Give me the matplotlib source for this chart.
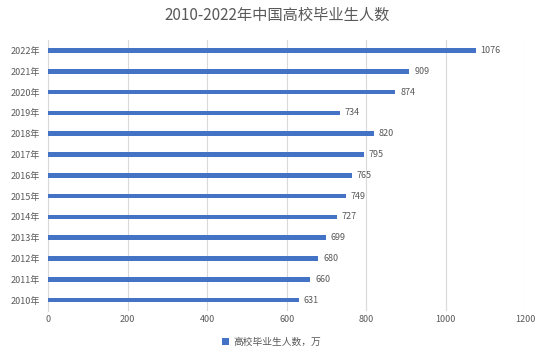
import matplotlib.pyplot as plt
import numpy as np

plt.rcParams['font.family'] = ['Noto Sans CJK SC', 'DejaVu Sans']

years = ['2010年', '2011年', '2012年', '2013年', '2014年', '2015年', '2016年',
         '2017年', '2018年', '2019年', '2020年', '2021年', '2022年']
graduates = [631, 660, 680, 699, 727, 749, 765, 795, 820, 734, 874, 909, 1076]
series_name = '高校毕业生人数，万'

bar_color = '#4472C4'
text_color = '#595959'

fig = plt.figure(figsize=(5.54, 3.56), dpi=100)
ax = fig.add_axes([48.3 / 554, 1 - 310.5 / 356, (525 - 48.3) / 554, (310.5 - 40) / 356])

y = np.arange(len(years))
ax.barh(y, graduates, height=0.22, color=bar_color, label=series_name, zorder=3)
for yi, v in zip(y, graduates):
    ax.text(v + 12, yi, str(v), va='center', ha='left', fontsize=6.5, color=text_color)

ax.set_xlim(0, 1200)
ax.set_ylim(-0.5, len(years) - 0.5)
ax.set_xticks(np.arange(0, 1201, 200))
ax.set_yticks(y)
ax.set_yticklabels(years)
ax.tick_params(axis='both', length=0, labelsize=6.5, colors=text_color)
ax.tick_params(axis='x', pad=3)
ax.tick_params(axis='y', pad=6)
ax.grid(axis='x', color='#D9D9D9', linewidth=0.8, zorder=0)
for s in ['top', 'right', 'bottom']:
    ax.spines[s].set_visible(False)
ax.spines['left'].set_color('#D9D9D9')
ax.spines['left'].set_linewidth(0.8)

fig.suptitle('2010-2022年中国高校毕业生人数', y=0.98, fontsize=11, color=text_color)

fig.legend(loc='lower center', bbox_to_anchor=(0.49, 0.0), frameon=False, fontsize=7,
           handlelength=0.7, handleheight=0.7, handletextpad=0.4, labelcolor=text_color)

fig.savefig('out.png', dpi=100)
